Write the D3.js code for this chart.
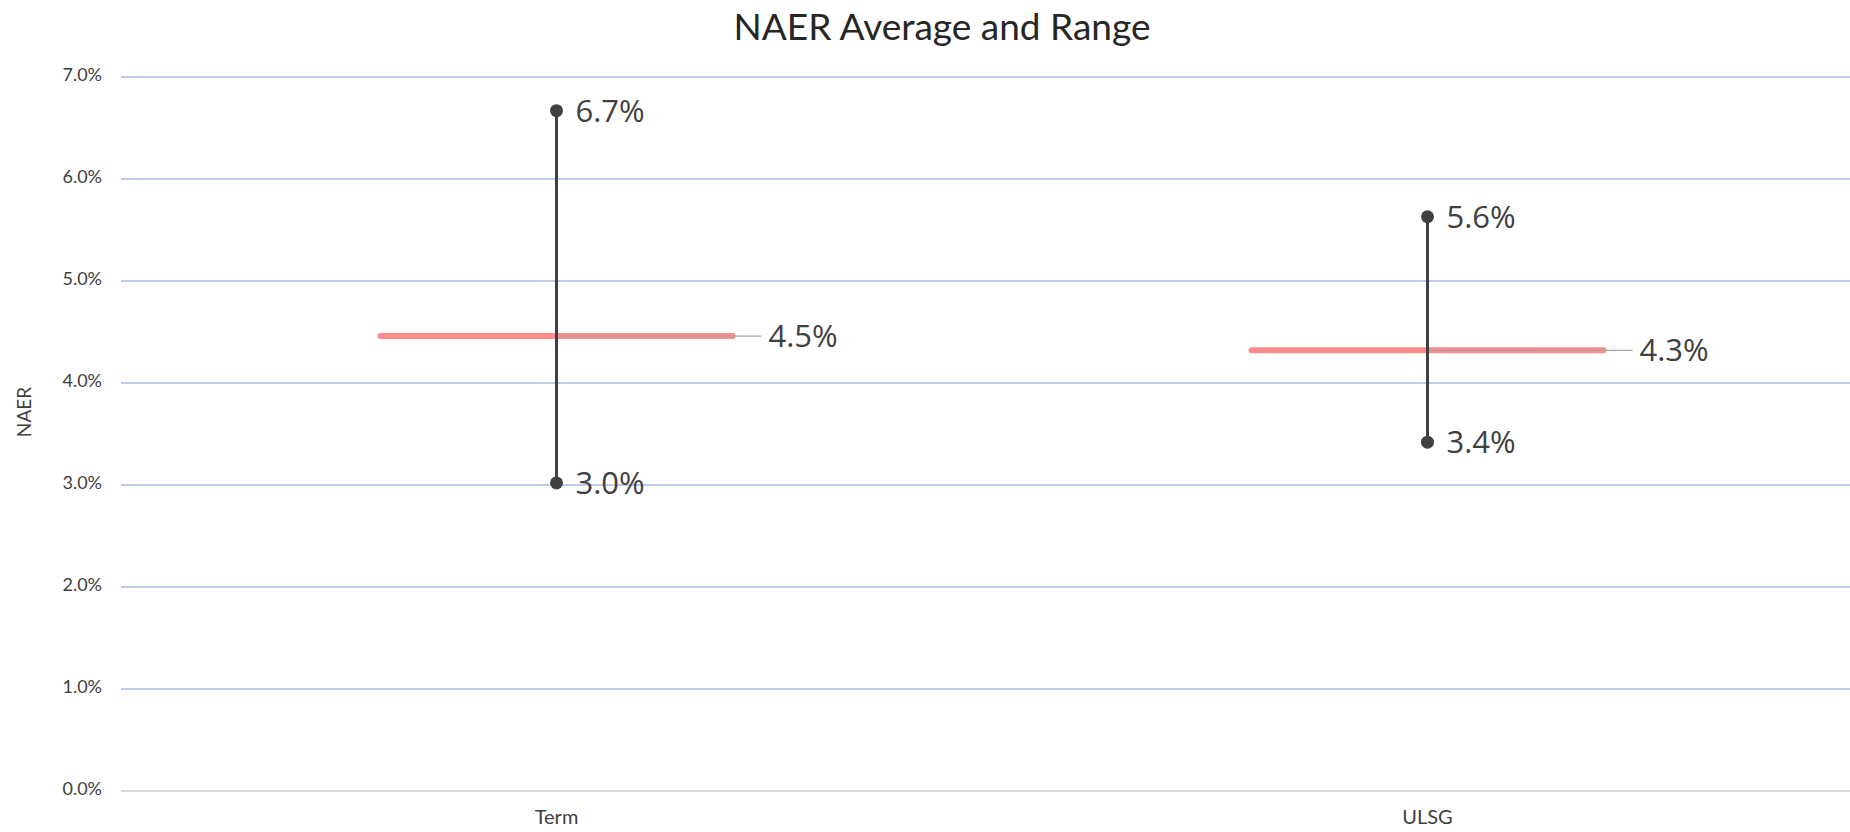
<!DOCTYPE html>
<html>
<head>
<meta charset="utf-8">
<script src="https://cdn.jsdelivr.net/npm/d3@7"></script>
<style>
  body { margin: 0; background: #fff; }
  svg text { font-family: Lato, "Noto Sans", sans-serif; }
</style>
</head>
<body>
<svg id="chart" width="1850" height="832"></svg>
<script>
// chart values
var categories = ["Term", "ULSG"];
var avgValues = [0.0446, 0.0432];
var highValues = [0.0667, 0.0563];
var lowValues = [0.0302, 0.0342];
var avgLabels = ["4.5%", "4.3%"];
var highLabels = ["6.7%", "5.6%"];
var lowLabels = ["3.0%", "3.4%"];
var yTicks = [0, 0.01, 0.02, 0.03, 0.04, 0.05, 0.06, 0.07];

var svg = d3.select("#chart");

// plot box (top is a window property, so use other names)
var plotLeft = 121, plotRight = 1863, plotTop = 77, plotBottom = 791;

var x = d3.scaleBand().domain(categories).range([plotLeft, plotRight]).padding(0);
var y = d3.scaleLinear().domain([0, 0.07]).range([plotBottom, plotTop]);

// gridlines
svg.append("g").selectAll("line").data(yTicks).enter().append("line")
  .attr("x1", plotLeft).attr("x2", 1850)
  .attr("y1", function(d){ return y(d); })
  .attr("y2", function(d){ return y(d); })
  .attr("stroke", function(d){ return d == 0 ? "#d9d9d9" : "#bccce9"; })
  .attr("stroke-width", 2);

// y axis labels
var yAxis = d3.axisLeft(y).tickValues(yTicks).tickFormat(d3.format(".1%")).tickSize(0).tickPadding(19);
var ya = svg.append("g").attr("transform", "translate(" + plotLeft + ",-2)").call(yAxis);
ya.select(".domain").remove();
ya.selectAll("text").style("font-family", "Lato, sans-serif").style("font-size", "18px").attr("fill", "#404040");

// x axis labels
var xAxis = d3.axisBottom(x).tickSize(0).tickPadding(19);
var xa = svg.append("g").attr("transform", "translate(0," + plotBottom + ")").call(xAxis);
xa.select(".domain").remove();
xa.selectAll("text").style("font-family", "Lato, sans-serif").style("font-size", "20px").attr("fill", "#404040");

// title
svg.append("text").attr("x", 942).attr("y", 25)
  .attr("text-anchor", "middle").attr("dominant-baseline", "central")
  .style("font-size", "37px").attr("fill", "#262626")
  .text("NAER Average and Range");

// y axis title
svg.append("text").attr("transform", "translate(23,412) rotate(-90)")
  .attr("text-anchor", "middle").attr("dominant-baseline", "central")
  .style("font-size", "19px").attr("fill", "#404040")
  .text("NAER");

var data = categories.map(function(c, i){
  return { cat: c, avg: avgValues[i], hi: highValues[i], lo: lowValues[i],
           avgL: avgLabels[i], hiL: highLabels[i], loL: lowLabels[i] };
});
function cx(d){ return x(d.cat) + x.bandwidth() / 2; }
var half = x.bandwidth() * 0.202;

// average lines
svg.append("g").selectAll("line").data(data).enter().append("line")
  .attr("x1", function(d){ return cx(d) - half; })
  .attr("x2", function(d){ return cx(d) + half; })
  .attr("y1", function(d){ return y(d.avg); })
  .attr("y2", function(d){ return y(d.avg); })
  .attr("stroke", "#ff8b8b").attr("stroke-width", 6).attr("stroke-linecap", "round");

// leader lines for avg labels
svg.append("g").selectAll("line").data(data).enter().append("line")
  .attr("x1", function(d){ return cx(d); })
  .attr("x2", function(d){ return cx(d) + 205; })
  .attr("y1", function(d){ return y(d.avg); })
  .attr("y2", function(d){ return y(d.avg); })
  .attr("stroke", "#a6a6a6").attr("stroke-width", 1.2);

// range lines
svg.append("g").selectAll("line").data(data).enter().append("line")
  .attr("x1", cx).attr("x2", cx)
  .attr("y1", function(d){ return y(d.hi); })
  .attr("y2", function(d){ return y(d.lo); })
  .attr("stroke", "#404040").attr("stroke-width", 3);

// end dots
var ends = [];
data.forEach(function(d){
  ends.push({ cat: d.cat, v: d.hi, label: d.hiL });
  ends.push({ cat: d.cat, v: d.lo, label: d.loL });
});
svg.append("g").selectAll("circle").data(ends).enter().append("circle")
  .attr("cx", cx).attr("cy", function(d){ return y(d.v); })
  .attr("r", 6.5).attr("fill", "#404040");

svg.append("g").selectAll("text").data(ends).enter().append("text")
  .attr("x", function(d){ return cx(d) + 19; })
  .attr("y", function(d){ return y(d.v) - 1; })
  .attr("dominant-baseline", "central")
  .style("font-family", "'Open Sans', sans-serif").style("font-size", "31px")
  .attr("fill", "#404040")
  .text(function(d){ return d.label; });

svg.append("g").selectAll("text").data(data).enter().append("text")
  .attr("x", function(d){ return cx(d) + 212; })
  .attr("y", function(d){ return y(d.avg) - 1; })
  .attr("dominant-baseline", "central")
  .style("font-family", "'Open Sans', sans-serif").style("font-size", "31px")
  .attr("fill", "#404040")
  .text(function(d){ return d.avgL; });
</script>
</body>
</html>
